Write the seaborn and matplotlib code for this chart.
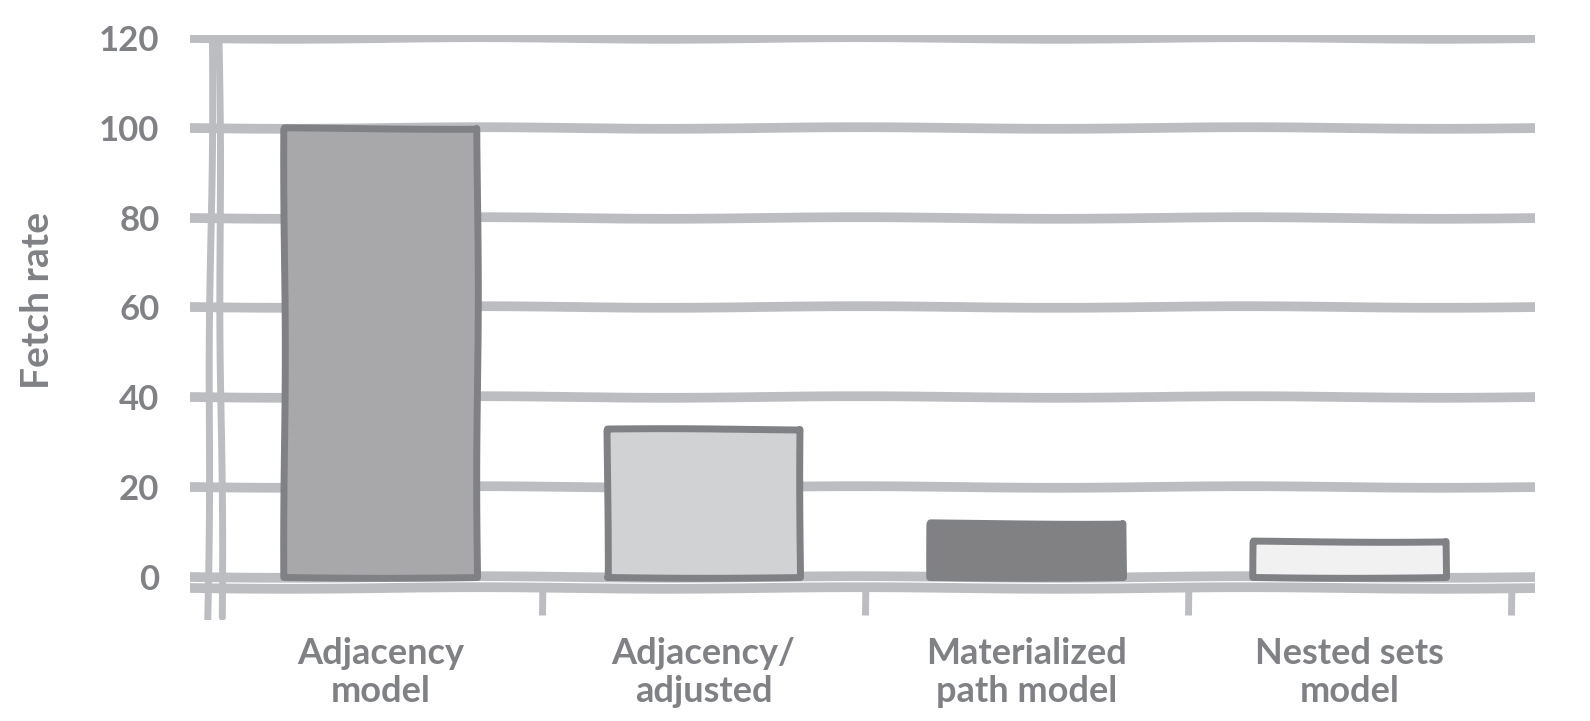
import matplotlib
matplotlib.use('Agg')
import pandas as pd
import seaborn as sns
from matplotlib import pyplot as plt

# 数据
categories = ['Adjacency\nmodel', 'Adjacency/\nadjusted', 'Materialized\npath model', 'Nested sets\nmodel']
fetch_rate = [100, 33, 12, 8]
bar_colors = ['#a7a8ab', '#d1d2d4', '#808184', '#f1f1f2']
y_ticks = [0, 20, 40, 60, 80, 100, 120]

grid_color = '#bcbdc0'
ink = '#808184'

sns.set_theme(style='white')
plt.rcParams['font.family'] = ['Lato', 'DejaVu Sans']
plt.rcParams['path.sketch'] = (0.8, 400, 1.5)  # 手绘风格，轻一点

df = pd.DataFrame({'model': categories, 'rate': fetch_rate})

fig = plt.figure(figsize=(15.9, 7.21), dpi=100)
ax = fig.add_axes([190 / 1590, 1 - 620 / 721, 1345 / 1590, 585 / 721])

# 网格线 + 底线
for v in y_ticks:
    ax.axhline(v, color=grid_color, lw=7, solid_capstyle='round', zorder=0)
ax.axhline(-2.5, color=grid_color, lw=7, solid_capstyle='round', zorder=0)

# y轴（画两遍，像手绘）
ax.plot([-0.535, -0.52], [-9.5, 120.5], color=grid_color, lw=5, solid_capstyle='round', zorder=1)
ax.plot([-0.49, -0.50], [-9.0, 120.3], color=grid_color, lw=5, solid_capstyle='round', zorder=1)
# 分类分隔刻度
ax.vlines([0.5, 1.5, 2.5, 3.5], -8.5, -2.5, color=grid_color, lw=5, zorder=1)

sns.barplot(data=df, x='model', y='rate', hue='model', palette=bar_colors,
            width=0.6, edgecolor=ink, linewidth=5, joinstyle='round',
            legend=False, ax=ax, zorder=3)

ax.set_xlim(-0.59, 3.574)
ax.set_ylim(-9.58, 120.67)
ax.set_yticks(y_ticks)
ax.tick_params(axis='y', length=0, pad=22, labelsize=25, labelcolor=ink)
ax.tick_params(axis='x', length=0, pad=12, labelsize=26, labelcolor=ink)
for lab in ax.get_xticklabels() + ax.get_yticklabels():
    lab.set_fontweight('bold')
for s in ax.spines.values():
    s.set_visible(False)
ax.grid(False)

ax.set_xlabel('')
ax.set_ylabel('Fetch rate', fontsize=28, color=ink, fontweight='bold')
ax.yaxis.set_label_coords(-0.1, 0.547)

fig.savefig('out.png', dpi=100)
